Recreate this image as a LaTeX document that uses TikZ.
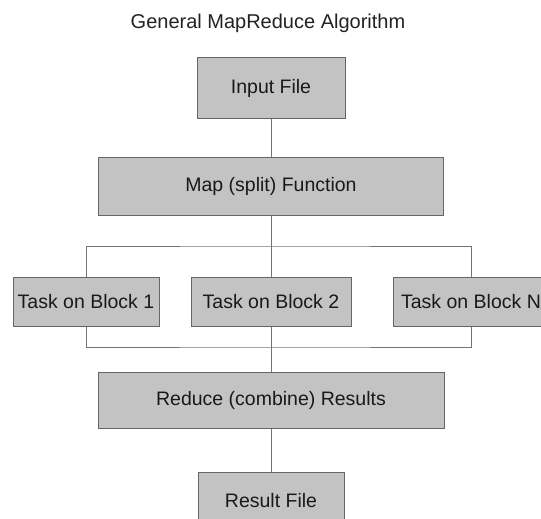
\documentclass[tikz,border=0pt]{standalone}
\usepackage{fontspec}
\setmainfont{Liberation Sans}
\usepackage{tikz}
\usetikzlibrary{positioning}
\definecolor{boxfill}{HTML}{C3C3C3}
\definecolor{boxline}{HTML}{666666}
\definecolor{linkline}{HTML}{747474}
\definecolor{titletext}{HTML}{222222}

\begin{document}
\begin{tikzpicture}[x=1pt, y=-1pt,
    stepbox/.style={draw=boxline, line width=1pt, fill=boxfill, inner sep=0pt,
        font=\fontsize{19.5}{22}\selectfont, text=black!90},
    link/.style={draw=linkline, line width=1pt}]
    \clip (0,0) rectangle (541,519);
    \useasboundingbox (0,0) rectangle (541,519);

    % Title
    \node[font=\fontsize{20}{24}\selectfont, color=titletext] (title) at (268,23) {General MapReduce Algorithm};

    % Main column
    \node[stepbox, minimum width=148pt, minimum height=60pt] (input) at (271,88) {Input File};
    \node[stepbox, minimum width=345pt, minimum height=58pt] (map) at (271,186) {Map (split) Function};

    % Parallel tasks
    \node[stepbox, minimum width=146pt, minimum height=49pt] (task1) at (86,301.5) {Task on Block 1};
    \node[stepbox, minimum width=160pt, minimum height=49pt] (task2) at (271,302) {Task on Block 2};
    \node[stepbox, minimum width=156pt, minimum height=49pt] (taskN) at (471,301.5) {Task on Block N};

    % Combine and output
    \node[stepbox, minimum width=346pt, minimum height=56pt] (reduce) at (271,400) {Reduce (combine) Results};
    \node[stepbox, minimum width=146pt, minimum height=58pt] (result) at (271,501) {Result File};

    % Fork and join points
    \coordinate (forktop) at (271,246);
    \coordinate (forkbot) at (271,347);

    % Connectors
    \draw[link] (input.south) -- (map.north);
    \draw[link] (map.south) -- (forktop);
    \draw[link] (task1.north) |- (forktop) -| (taskN.north);
    \draw[link] (forktop) -- (task2.north);
    \draw[link] (task1.south) |- (forkbot) -| (taskN.south);
    \draw[link] (task2.south) -- (forkbot);
    \draw[link] (forkbot) -- (reduce.north);
    \draw[link] (reduce.south) -- (result.north);
\end{tikzpicture}
\end{document}
